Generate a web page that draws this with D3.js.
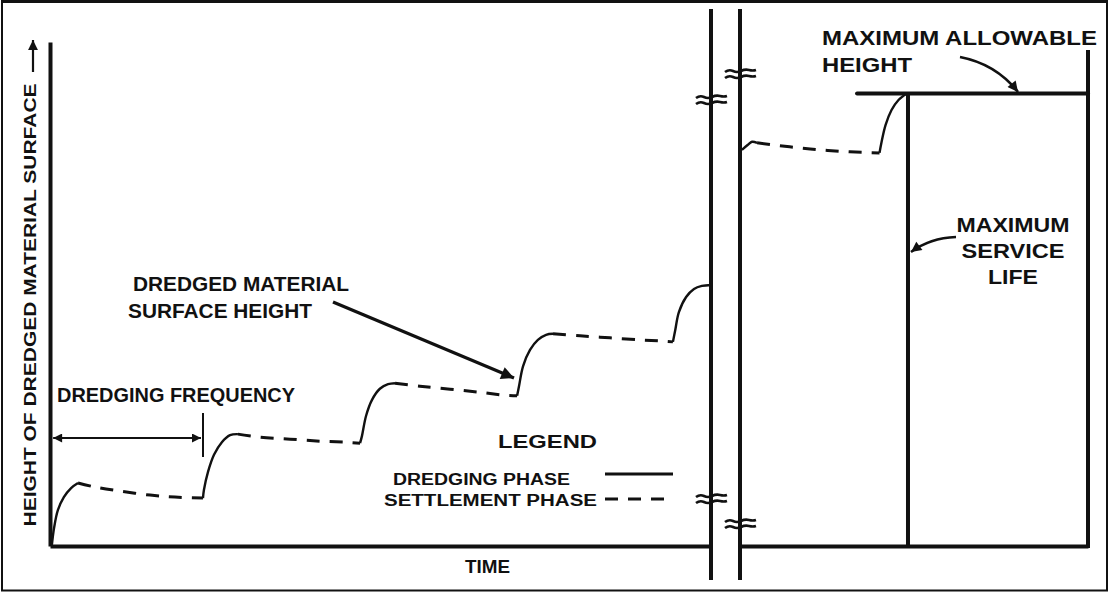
<!DOCTYPE html>
<html>
<head>
<meta charset="utf-8">
<script src="https://cdn.jsdelivr.net/npm/d3@7"></script>
<style>
  html, body { margin: 0; padding: 0; background: #fff; }
  svg { display: block; }
  text { font-family: "Liberation Sans", Arial, Helvetica, sans-serif; font-weight: bold; fill: #111; }
</style>
</head>
<body>
<script>
// Time runs in arbitrary units; the axis is broken between the two panels.
const timeBeforeBreak = [0, 21];
const timeAfterBreak = [60, 71];
const heightDomain = [0, 100];

// Dredging phases (solid): rise of the surface while material is placed.
const dredgingPhases = [
  [[0.06, 0.2], [0.13, 3.6], [0.25, 7.1], [0.44, 9.7], [0.67, 11.5], [0.89, 12.5]],
  [[4.86, 9.5], [4.89, 11.1], [5.02, 14.7], [5.21, 18.1], [5.46, 20.6], [5.72, 22.0], [5.97, 22.2]],
  [[9.85, 20.4], [9.91, 21.8], [10.04, 25.8], [10.23, 29.0], [10.48, 31.2], [10.74, 32.1], [10.96, 32.3]],
  [[14.84, 29.8], [14.90, 31.7], [15.03, 35.7], [15.25, 38.9], [15.50, 40.9], [15.76, 41.9], [15.98, 42.1]],
  [[19.79, 40.5], [19.86, 42.7], [19.98, 46.4], [20.21, 49.4], [20.46, 51.0], [20.71, 51.6], [21.0, 51.8]]
];
const dredgingPhasesAfterBreak = [
  [[60.06, 78.6], [60.25, 79.6], [60.38, 80.2], [60.54, 80.0]],
  [[64.41, 78.0], [64.47, 80.0], [64.60, 83.5], [64.79, 86.5], [65.01, 88.5], [65.27, 89.8]]
];

// Settlement phases (dashed): consolidation between dredging operations.
const settlementPhases = [
  [[0.89, 12.5], [1.43, 11.7], [2.22, 10.9], [3.18, 10.1], [3.97, 9.7], [4.86, 9.5]],
  [[5.97, 22.2], [6.67, 21.6], [7.63, 21.2], [8.58, 20.8], [9.37, 20.6], [9.85, 20.4]],
  [[10.96, 32.3], [11.75, 31.7], [12.71, 31.1], [13.66, 30.5], [14.46, 29.9], [14.84, 29.8]],
  [[15.98, 42.1], [16.84, 41.7], [17.79, 41.3], [18.74, 40.9], [19.38, 40.7], [19.79, 40.5]]
];
const settlementPhasesAfterBreak = [
  [[60.54, 80.0], [61.57, 79.2], [62.52, 78.6], [63.47, 78.2], [64.41, 78.0]]
];

const maxAllowableHeight = 89.8;
const maxServiceLife = 65.31;
const dredgingFrequency = [0.1, 4.86];

const W = 1110, H = 593;
const svg = d3.select("body").append("svg").attr("width", W).attr("height", H);

const xLeft = d3.scaleLinear().domain(timeBeforeBreak).range([50, 711]);
const xRight = d3.scaleLinear().domain(timeAfterBreak).range([740, 1088]);
const y = d3.scaleLinear().domain(heightDomain).range([546, 42]);

// Outer frame
svg.append("rect").attr("x", 2).attr("y", 1.5).attr("width", 1105).attr("height", 589)
  .attr("fill", "none").attr("stroke", "#111").attr("stroke-width", 2);
svg.append("line").attr("x1", 1).attr("x2", 1108).attr("y1", 1.5).attr("y2", 1.5)
  .attr("stroke", "#111").attr("stroke-width", 3);

// Arrowhead markers
const defs = svg.append("defs");
defs.append("marker").attr("id", "head").attr("viewBox", "0 0 10 10")
  .attr("refX", 10).attr("refY", 5).attr("markerWidth", 5).attr("markerHeight", 4)
  .attr("markerUnits", "strokeWidth").attr("orient", "auto-start-reverse")
  .append("path").attr("d", "M0,0 L10,5 L0,10 z").attr("fill", "#111");
defs.append("marker").attr("id", "headSmall").attr("viewBox", "0 0 10 10")
  .attr("refX", 10).attr("refY", 5).attr("markerWidth", 7).attr("markerHeight", 4.5)
  .attr("markerUnits", "strokeWidth").attr("orient", "auto-start-reverse")
  .append("path").attr("d", "M0,0 L10,5 L0,10 z").attr("fill", "#111");

// Axes (no ticks, just the thick domain lines)
function styleAxis(g) {
  g.selectAll(".domain").attr("stroke", "#111").attr("stroke-width", 4);
  g.selectAll(".tick").remove();
}
svg.append("g").attr("transform", `translate(${xLeft.range()[0]},0)`)
  .call(d3.axisLeft(y).ticks(0).tickSizeOuter(0)).call(styleAxis);
svg.append("g").attr("transform", `translate(0,${y(0)})`)
  .call(d3.axisBottom(xLeft).ticks(0).tickSizeOuter(0)).call(styleAxis);
svg.append("g").attr("transform", `translate(0,${y(0)})`)
  .call(d3.axisBottom(xRight).ticks(0).tickSizeOuter(0)).call(styleAxis);

// Right-hand boundary of the service-life panel
svg.append("line").attr("x1", xRight(71)).attr("x2", xRight(71))
  .attr("y1", y(98.4)).attr("y2", y(0) + 2)
  .attr("stroke", "#111").attr("stroke-width", 4);

// Axis break: two long verticals with break symbols
const breakX = [xLeft(timeBeforeBreak[1]), xRight(timeAfterBreak[0])];
breakX.forEach(bx => {
  svg.append("line").attr("x1", bx).attr("x2", bx).attr("y1", 9).attr("y2", 580)
    .attr("stroke", "#111").attr("stroke-width", 4);
});
const breakMarks = [[breakX[0], 101], [breakX[0], 500], [breakX[1], 75], [breakX[1], 525]];
breakMarks.forEach(([bx, by]) => {
  [-3, 3].forEach(off => {
    svg.append("path")
      .attr("d", `M${bx - 15},${by + off} q4,-3 8,-1 t8,0 t8,-1 t7,0`)
      .attr("fill", "none").attr("stroke", "#111").attr("stroke-width", 2.6);
  });
});

// Surface height curves
const lineL = d3.line().x(d => xLeft(d[0])).y(d => y(d[1])).curve(d3.curveCatmullRom);
const lineR = d3.line().x(d => xRight(d[0])).y(d => y(d[1])).curve(d3.curveCatmullRom);

const curves = svg.append("g").attr("fill", "none").attr("stroke", "#111")
  .attr("stroke-width", 2.4).attr("stroke-linejoin", "round");
curves.selectAll(".dl").data(dredgingPhases).join("path").attr("d", lineL);
curves.selectAll(".dr").data(dredgingPhasesAfterBreak).join("path").attr("d", lineR);
curves.selectAll(".sl").data(settlementPhases).join("path").attr("d", lineL)
  .attr("stroke-width", 3).attr("stroke-dasharray", "13,10");
curves.selectAll(".sr").data(settlementPhasesAfterBreak).join("path").attr("d", lineR)
  .attr("stroke-width", 3).attr("stroke-dasharray", "13,10");

// Maximum allowable height and maximum service life
svg.append("line").attr("x1", xRight(63.7)).attr("x2", xRight(71))
  .attr("y1", y(maxAllowableHeight)).attr("y2", y(maxAllowableHeight))
  .attr("stroke", "#111").attr("stroke-width", 4).attr("stroke-linecap", "round");
svg.append("line").attr("x1", xRight(maxServiceLife)).attr("x2", xRight(maxServiceLife))
  .attr("y1", y(maxAllowableHeight)).attr("y2", y(0))
  .attr("stroke", "#111").attr("stroke-width", 4);

// Dredging frequency dimension
const fy = 438;
svg.append("line").attr("x1", xLeft(dredgingFrequency[0])).attr("x2", xLeft(dredgingFrequency[1]) - 2)
  .attr("y1", fy).attr("y2", fy).attr("stroke", "#111").attr("stroke-width", 2)
  .attr("marker-start", "url(#headSmall)").attr("marker-end", "url(#headSmall)");
svg.append("line").attr("x1", xLeft(dredgingFrequency[1])).attr("x2", xLeft(dredgingFrequency[1]))
  .attr("y1", 413).attr("y2", 457).attr("stroke", "#111").attr("stroke-width", 2);

// Leader arrows
svg.append("line").attr("x1", 333).attr("y1", 302).attr("x2", 514).attr("y2", 378)
  .attr("stroke", "#111").attr("stroke-width", 3.2).attr("marker-end", "url(#head)");
svg.append("path").attr("d", "M960,57 Q996,64 1018,92")
  .attr("fill", "none").attr("stroke", "#111").attr("stroke-width", 2.6).attr("marker-end", "url(#head)");
svg.append("path").attr("d", "M956,237 Q930,238 911,252")
  .attr("fill", "none").attr("stroke", "#111").attr("stroke-width", 2.6).attr("marker-end", "url(#head)");

// Text
function label(txt, x, yy, size, len, anchor) {
  return svg.append("text").attr("x", x).attr("y", yy).attr("font-size", size)
    .attr("text-anchor", anchor || "start")
    .attr("textLength", len).attr("lengthAdjust", "spacingAndGlyphs").text(txt);
}
label("DREDGING FREQUENCY", 57, 402, 20, 238);
label("DREDGED MATERIAL", 133, 291, 21, 216);
label("SURFACE HEIGHT", 128, 318, 21, 184);
label("LEGEND", 498, 448, 19, 99);
label("DREDGING PHASE", 393, 485, 16, 177);
label("SETTLEMENT PHASE", 384, 506, 16, 213);
label("TIME", 465, 573, 18, 45);
label("MAXIMUM ALLOWABLE", 822, 45, 21, 275);
label("HEIGHT", 822, 72, 21, 90);
label("MAXIMUM", 1013, 232, 20, 113, "middle");
label("SERVICE", 1013, 258, 20, 103, "middle");
label("LIFE", 1013, 284, 20, 50, "middle");

// Y-axis title with upward arrow
svg.append("text").attr("transform", "translate(36,305) rotate(-90)")
  .attr("text-anchor", "middle").attr("font-size", 17)
  .attr("textLength", 443).attr("lengthAdjust", "spacingAndGlyphs")
  .text("HEIGHT OF DREDGED MATERIAL SURFACE");
svg.append("line").attr("x1", 33).attr("x2", 33).attr("y1", 72).attr("y2", 40)
  .attr("stroke", "#111").attr("stroke-width", 2.2).attr("marker-end", "url(#headSmall)");

// Legend samples
svg.append("line").attr("x1", 605).attr("x2", 673).attr("y1", 474).attr("y2", 474)
  .attr("stroke", "#111").attr("stroke-width", 3);
svg.append("line").attr("x1", 605).attr("x2", 673).attr("y1", 499).attr("y2", 499)
  .attr("stroke", "#111").attr("stroke-width", 3).attr("stroke-dasharray", "13,10");
</script>
</body>
</html>
